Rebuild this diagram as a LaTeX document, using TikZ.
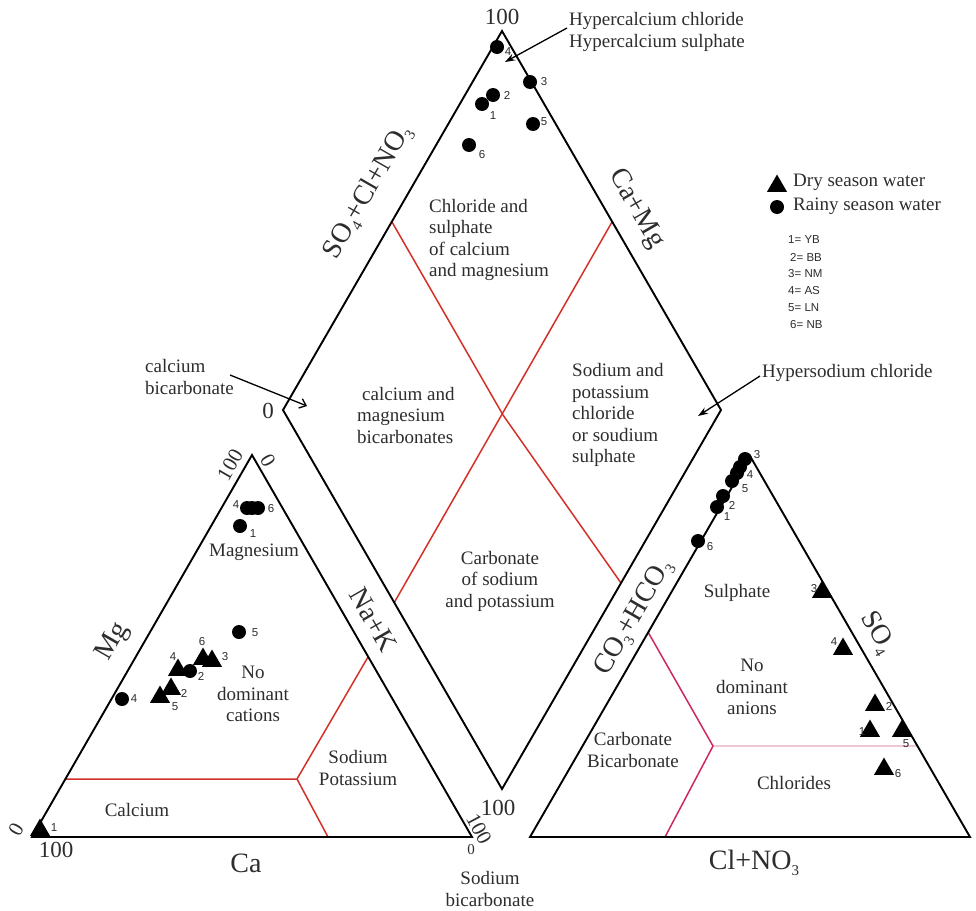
\documentclass[tikz,border=0pt]{standalone}
\usepackage{fontspec}
\setmainfont{Liberation Serif}
\newfontfamily\arialf{Liberation Sans}
\usetikzlibrary{shapes.geometric,arrows.meta}
\definecolor{redc}{RGB}{212,48,40}
\definecolor{magc}{RGB}{206,40,92}
\definecolor{pinkc}{RGB}{240,198,212}
\definecolor{txt}{RGB}{45,45,45}
\newcommand\fRegion{\fontsize{19}{21.5}\selectfont}
\newcommand\fAxis{\fontsize{28}{30}\selectfont}
\newcommand\fTick{\fontsize{23}{25}\selectfont}
\newcommand\fNum{\arialf\fontsize{11.5}{12}\selectfont}
\newcommand\lowsub[1]{\raisebox{-0.45ex}{\fontsize{15}{15}\selectfont #1}}
\begin{document}
\begin{tikzpicture}[x=1pt,y=-1pt,
  edge/.style={line width=1.9pt,line join=miter},
  redl/.style={line width=1.5pt,draw=redc},
  magl/.style={line width=1.5pt,draw=magc},
  pinkl/.style={line width=1.2pt,draw=pinkc},
  region/.style={font=\fRegion,text=txt,inner sep=0,align=center},
  regionL/.style={region,align=left,anchor=west},
  axis/.style={font=\fAxis,text=txt,inner sep=0},
  tick/.style={font=\fTick,text=txt,inner sep=0},
  num/.style={font=\fNum,text=txt,inner sep=0},
  dot/.style={circle,fill=black,inner sep=0,minimum size=14pt},
  tri/.style={regular polygon,regular polygon sides=3,fill=black,inner sep=0,minimum size=23pt},
  arr/.style={line width=1.3pt,-{Stealth[length=10pt,width=7pt]}},
  arrB/.style={line width=1.3pt,-{Straight Barb[length=6pt,width=10pt]}}
]
\useasboundingbox (0,0) rectangle (976,910);

% ---------- vertices ----------
\coordinate (A1) at (32,837);
\coordinate (A2) at (472,837);
\coordinate (A3) at (252,455);
\coordinate (C1) at (530,837);
\coordinate (C2) at (970,837);
\coordinate (C3) at (750,456);
\coordinate (DT) at (502,31);
\coordinate (DL) at (283,410);
\coordinate (DB) at (502,789);
\coordinate (DR) at (721,410);

% ---------- red division lines ----------
\coordinate (lh1) at (65,779);
\coordinate (lv) at (297,779);
\coordinate (lr) at (368,657);
\coordinate (lb) at (328,837);
\draw[redl] (lh1) -- (lv) -- (lr);
\draw[redl] (lv) -- (lb);

\coordinate (dm1) at (394,603);
\coordinate (dm2) at (612,222);
\coordinate (dm3) at (392,222);
\coordinate (dmc) at (503,415);
\coordinate (dm4) at (621,583);
\draw[redl] (dm1) -- (dm2);
\draw[redl] (dm3) -- (dmc) -- (dm4);

\coordinate (rl) at (648,632);
\coordinate (rv) at (713,746);
\coordinate (rb) at (665,837);
\coordinate (rr) at (917,746);
\draw[pinkl] (rv) -- (rr);
\draw[magl] (rl) -- (rv) -- (rb);

% ---------- outlines ----------
\draw[edge] (A1) -- (A2) -- (A3) -- cycle;
\draw[edge] (C1) -- (C2) -- (C3) -- cycle;
\draw[edge] (DT) -- (DR) -- (DB) -- (DL) -- cycle;

% ---------- region labels ----------
\node[regionL] (rChl) at (429,240) {Chloride and\\sulphate\\of calcium\\and magnesium};
\node[regionL] (rCaMg) at (357,415) {\hspace*{5pt}calcium and\\magnesium\\bicarbonates};
\node[regionL] (rNaK) at (572,415) {Sodium and\\potassium\\chloride\\or soudium\\sulphate};
\node[region] (rCarb) at (500,581) {Carbonate\\of sodium\\and potassium};
\node[region] (rMg) at (254,552) {Magnesium};
\node[region] (rNoC) at (253,694) {No\\dominant\\cations};
\node[region] (rCa) at (137,810) {Calcium};
\node[region] (rSP) at (358,768) {Sodium\\Potassium};
\node[region] (rSul) at (737,593) {Sulphate};
\node[region] (rNoA) at (752,687) {No\\dominant\\anions};
\node[region] (rCB) at (633,750) {Carbonate\\Bicarbonate};
\node[region] (rChs) at (794,783) {Chlorides};

% ---------- axis labels ----------
\node[axis,rotate=60] (axSO) at (368,192) {SO\lowsub{4}+Cl+NO\lowsub{3}};
\node[axis,rotate=-60] (axCaMg) at (636,209) {Ca+Mg};
\node[axis,rotate=-60] (axNaK) at (373,620) {Na+K};
\node[axis,rotate=60] (axCO) at (634,618) {CO\lowsub{3}+HCO\lowsub{3}};
\node[axis,rotate=60] (axMg) at (113,642) {Mg};
\node[axis,rotate=-60] (axSO4) at (877,633) {SO\lowsub{4}};
\node[axis] (axCa) at (246,863) {Ca};
\node[axis] (axCl) at (754,863) {Cl+NO\lowsub{3}};

% ---------- tick numbers ----------
\node[tick] (t100top) at (502,17) {100};
\node[tick] (t0left) at (268,411) {0};
\node[tick] (t100bot) at (498,808) {100};
\node[tick] (t100bl) at (56,850) {100};
\node[tick,font=\fontsize{21}{23}\selectfont,rotate=60] (t0bl) at (16,829) {0};
\node[tick,font=\fontsize{21}{23}\selectfont,rotate=60] (t100ap) at (230,465) {100};
\node[tick,font=\fontsize{21}{23}\selectfont,rotate=-60] (t0ap) at (268,461) {0};
\node[tick,font=\fontsize{21}{23}\selectfont,rotate=-62] (t100br) at (479,829) {100};
\node[tick,font=\fontsize{15}{16}\selectfont] (t0br) at (471,850) {0};
\node[region] (sodbic) at (490,889) {Sodium\\bicarbonate};

% ---------- annotations with arrows ----------
\node[region,align=left,anchor=west] (hyperCa) at (569,32) {Hypercalcium chloride\\Hypercalcium sulphate};
\coordinate (hcS) at (567,28);
\coordinate (hcE) at (505,62);
\draw[arr] (hcS) -- (hcE);

\node[region,anchor=west] (hyperNa) at (762,373) {Hypersodium chloride};
\coordinate (hsS) at (760,376);
\coordinate (hsE) at (698,416);
\draw[arr] (hsS) -- (hsE);

\node[region,align=left,anchor=west] (cabic) at (145,377) {calcium\\bicarbonate};
\coordinate (cbS) at (230,375);
\coordinate (cbE) at (307,406);
\draw[arrB] (cbS) -- (cbE);

% ---------- legend ----------
\node[tri] (lgT) at (777,186) {};
\node[region,anchor=west] (lgTt) at (793,182) {Dry season water};
\node[dot] (lgC) at (777,207) {};
\node[region,anchor=west] (lgCt) at (793,206) {Rainy season water};
\node[num,anchor=west] (k1) at (788,240) {1= YB};
\node[num,anchor=west] (k2) at (790,257) {2= BB};
\node[num,anchor=west] (k3) at (788,274) {3= NM};
\node[num,anchor=west] (k4) at (788,291) {4= AS};
\node[num,anchor=west] (k5) at (788,308) {5= LN};
\node[num,anchor=west] (k6) at (790,325) {6= NB};

% ---------- diamond points (rainy) ----------
\node[dot] (p4) at (497,47) {};   \node[num] (p4l) at (508,52) {4};
\node[dot] (p3) at (530,82) {};   \node[num] (p3l) at (544,82) {3};
\node[dot] (p2) at (493,95) {};   \node[num] (p2l) at (507,95) {2};
\node[dot] (p1) at (482,104) {};  \node[num] (p1l) at (493,116) {1};
\node[dot] (p5) at (533,124) {};  \node[num] (p5l) at (544,122) {5};
\node[dot] (p6) at (469,145) {};  \node[num] (p6l) at (482,155) {6};

% ---------- cation triangle ----------
\node[dot] (c4) at (247,508) {};
\node[dot] (c46) at (252,508) {};
\node[dot] (c6) at (258,508) {};
\node[num] (c4l) at (236,505) {4};
\node[num] (c6l) at (271,509) {6};
\node[dot] (c1) at (240,526) {};  \node[num] (c1l) at (253,534) {1};
\node[dot] (c5) at (239,632) {};  \node[num] (c5l) at (255,633) {5};
\node[tri] (ct4) at (178,670) {}; \node[num] (ct4l) at (173,657) {4};
\node[tri] (ct6) at (203,659) {}; \node[num] (ct6l) at (202,642) {6};
\node[tri] (ct3) at (212,661) {}; \node[num] (ct3l) at (225,657) {3};
\node[dot] (c2) at (190,671) {};  \node[num] (c2l) at (201,676) {2};
\node[tri] (ct2) at (171,689) {}; \node[num] (ct2l) at (184,693) {2};
\node[tri] (ct5) at (160,697) {}; \node[num] (ct5l) at (175,707) {5};
\node[dot] (c4b) at (122,699) {}; \node[num] (c4bl) at (134,699) {4};
\node[tri] (ct1) at (40,830) {};  \node[num] (ct1l) at (54,828) {1};

% ---------- anion triangle ----------
\node[dot] (a6) at (698,541) {};  \node[num] (a6l) at (710,547) {6};
\node[dot] (a1) at (717,507) {};  \node[num] (a1l) at (727,517) {1};
\node[dot] (a2) at (723,496) {};  \node[num] (a2l) at (732,505) {2};
\node[dot] (a5) at (732,481) {};  \node[num] (a5l) at (745,489) {5};
\node[dot] (a4b) at (737,473) {};
\node[dot] (a4) at (740,467) {};  \node[num] (a4l) at (750,475) {4};
\node[dot] (a3) at (745,459) {};  \node[num] (a3l) at (757,455) {3};
\node[tri] (at3) at (822,592) {}; \node[num] (at3l) at (814,589) {3};
\node[tri] (at4) at (843,649) {}; \node[num] (at4l) at (834,642) {4};
\node[tri] (at2) at (875,705) {}; \node[num] (at2l) at (889,706) {2};
\node[tri] (at1) at (870,731) {}; \node[num] (at1l) at (862,732) {1};
\node[tri] (at5) at (902,731) {}; \node[num] (at5l) at (906,744) {5};
\node[tri] (at6) at (884,769) {}; \node[num] (at6l) at (898,774) {6};
\end{tikzpicture}
\end{document}
